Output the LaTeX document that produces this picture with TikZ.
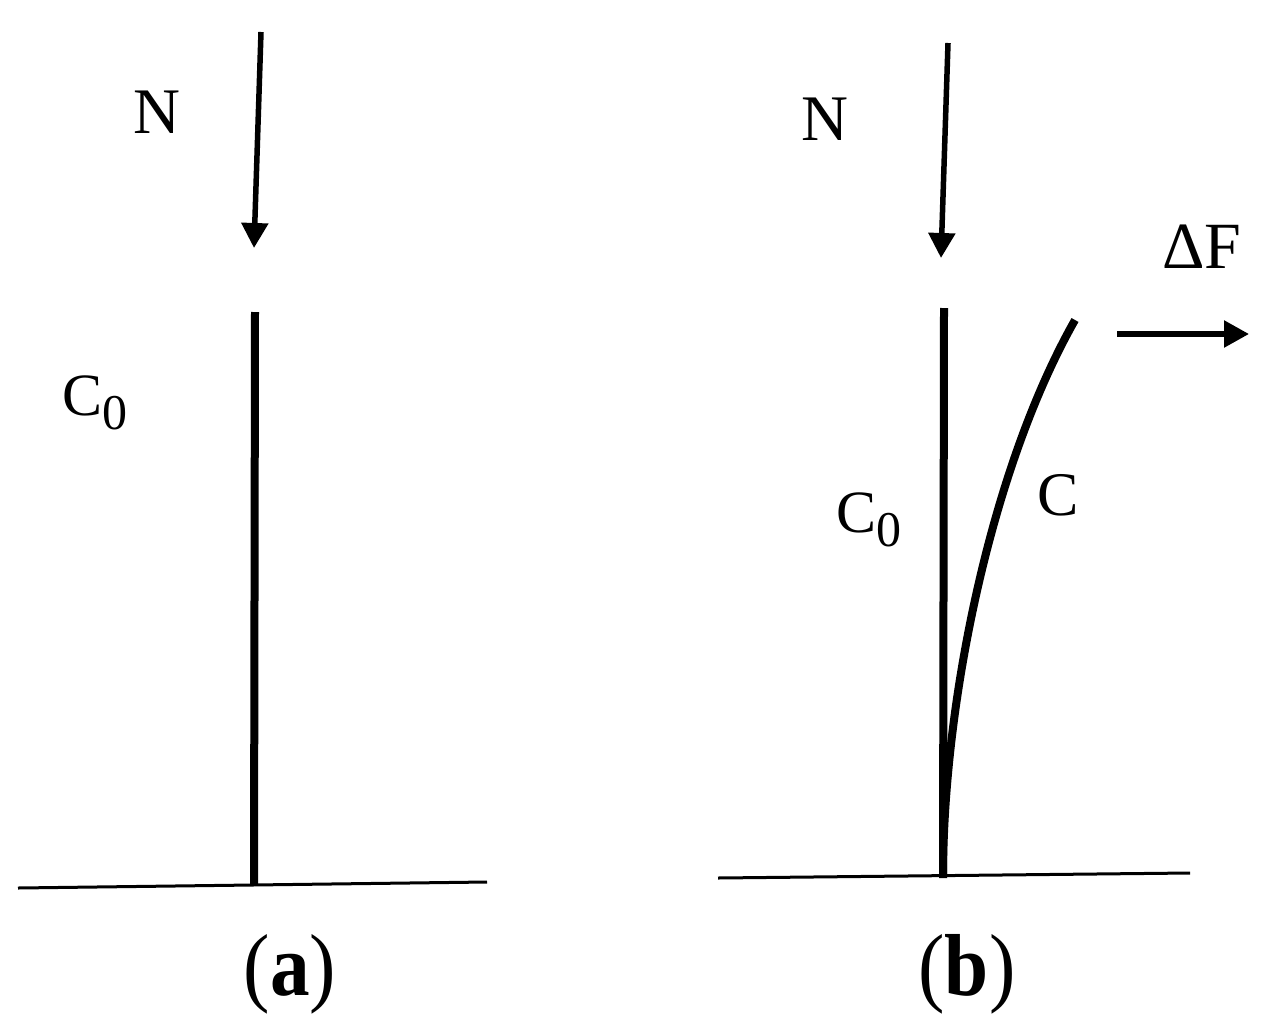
\documentclass[tikz,border=0pt]{standalone}
\usepackage{fontspec}
\setmainfont{Liberation Serif}
\usetikzlibrary{arrows.meta}
\tikzset{
  column/.style={line width=8pt},
  ground/.style={line width=3pt},
  force/.style={line width=5.5pt,-{Triangle[length=25pt,width=26pt]}},
  lbl/.style={inner sep=0pt,anchor=base},
  caplbl/.style={inner sep=0pt,anchor=base,font=\fontsize{88}{88}\selectfont,xscale=0.9},
}
\newcommand{\subzero}{\raisebox{-14pt}{\fontsize{50}{50}\selectfont 0}}
\begin{document}
\begin{tikzpicture}[x=1pt,y=-1pt]
\useasboundingbox (0,0) rectangle (1281,1025);
% ---------- (a)
\coordinate (ga1) at (18,888);
\coordinate (ga2) at (487,882);
\coordinate (ca1) at (255,312);
\coordinate (ca2) at (254,885);
\coordinate (na1) at (261,32);
\coordinate (na2) at (254,248);
\draw[ground] (ga1) -- (ga2);
\draw[column] (ca1) -- (ca2);
\draw[force] (na1) -- (na2);
\node[lbl,font=\fontsize{65}{65}\selectfont] (Na) at (157,133) {N};
\node[lbl,anchor=base west,font=\fontsize{60}{60}\selectfont] (C0a) at (62,415) {C\subzero};
\node[caplbl] (capa) at (290,995) {(\textbf{a})};
% ---------- (b)
\coordinate (gb1) at (718,878);
\coordinate (gb2) at (1190,873);
\coordinate (cb1) at (944,308);
\coordinate (cb2) at (943,878);
\coordinate (nb1) at (948,43);
\coordinate (nb2) at (941,258);
\coordinate (fb1) at (1117,334);
\coordinate (fb2) at (1249,334);
\coordinate (cv1) at (943,877);
\coordinate (cv2) at (1075,320);
\draw[ground] (gb1) -- (gb2);
\draw[column] (cb1) -- (cb2);
\draw[column] (cv1) .. controls (943,705) and (990,470) .. (cv2);
\draw[force] (nb1) -- (nb2);
\draw[force] (fb1) -- (fb2);
\node[lbl,font=\fontsize{65}{65}\selectfont] (Nb) at (825,140) {N};
\node[lbl,anchor=base west,font=\fontsize{60}{60}\selectfont] (C0b) at (836,532) {C\subzero};
\node[lbl,font=\fontsize{62}{62}\selectfont] (Cb) at (1058,515) {C};
\node[lbl,anchor=base west,font=\fontsize{66}{66}\selectfont] (dF) at (1162,268) {ΔF};
\node[caplbl] (capb) at (967,995) {(\textbf{b})};
\end{tikzpicture}
\end{document}
